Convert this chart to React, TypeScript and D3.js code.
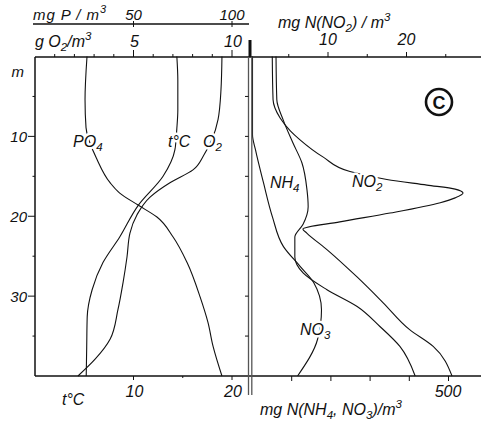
import React from "react";
import * as d3 from "d3";

const W = 481;
const H = 426;

// Depth profiles (m) and values
const tempDepth = [0, 3, 6.7, 9, 11.7, 15, 18.6, 22.6, 25.8, 29.2, 32.6, 36.3, 40];
const tempValue = [14.4, 14.5, 14.5, 14.4, 14.2, 13.0, 10.5, 8.6, 6.9, 5.8, 5.3, 5.25, 5.2];

const o2Depth = [0, 4.2, 7.9, 10.4, 12.3, 14.2, 15.8, 17.6, 19.8, 22.1, 25.1, 28.3, 31.7, 35.4, 37.9, 40];
const o2Value = [9.49, 9.44, 9.29, 8.98, 8.58, 8.02, 6.85, 5.84, 5.18, 4.82, 4.67, 4.47, 4.21, 3.81, 3.05, 2.18];

const po4Depth = [0, 5.4, 8.9, 12.9, 15.8, 17.1, 18.6, 20.1, 22.6, 25.8, 30.1, 33.3, 36.3, 40];
const po4Value = [26.4, 25.4, 25.9, 31.5, 38.1, 43, 52.3, 61.9, 70.1, 77.2, 83.8, 87.8, 90.4, 94.9];

const no3Depth = [0, 5, 9.8, 11.7, 15.8, 20.1, 23.8, 26.3, 28.3, 31.7, 35.4, 40];
const no3Value = [0, 0, 0, 7.7, 28, 51, 79, 122, 156, 176, 166, 115];

const nh4Depth = [0, 5.4, 7.9, 10.8, 13.3, 16.7, 18.8, 21.0, 22.6, 25.1, 27.1, 29.2, 31.3, 33.8, 36.3, 40];
const nh4Value = [60, 62, 78, 103, 126, 139, 142, 129, 108, 108, 129, 190, 267, 325, 376, 415];

const no2Depth = [0, 5.4, 7.7, 9.3, 10.4, 12.6, 14.4, 15.4, 16.1, 16.6, 17.1, 17.7, 18.3, 19.6, 20.7, 21.6, 22.1, 24.2, 27.6, 30.8, 34.2, 36.3, 40];
const no2Value = [2.9, 3.0, 3.9, 5.2, 6.4, 9.4, 12.8, 17.5, 22.6, 26.2, 27.2, 26.2, 24.3, 17.9, 11.5, 6.8, 7.3, 9.9, 13.7, 17.0, 20.4, 23.4, 25.8];

// Tick values
const depthMinor = [5, 15, 25, 35];
const depthMajor = [10, 20, 30];
const o2Ticks = [1, 2, 3, 4, 5, 6, 7, 8, 9, 10];
const o2Labels = [5, 10];
const pLabels = [50, 100];
const tTicks = [10, 15, 20];
const tLabels = [10, 20];
const no2Ticks = [5, 10, 15, 20, 25];
const no2Labels = [10, 20];
const nTicks = [100, 200, 300, 400, 500];

const depthY = d3.scaleLinear().domain([0, 40]).range([56.5, 376]);
const tX = d3.scaleLinear().domain([0, 20]).range([35, 232]);
const o2X = d3.scaleLinear().domain([0, 10]).range([35, 232]);
const pX = d3.scaleLinear().domain([0, 100]).range([35, 232]);
const no2X = d3.scaleLinear().domain([0, 20]).range([249.5, 406.5]);
const nX = d3.scaleLinear().domain([0, 500]).range([252.5, 448.5]);

const FONT = "'Liberation Sans', Arial, sans-serif";

function profile(depth: number[], value: number[], xs: d3.ScaleLinear<number, number>) {
  const pts: [number, number][] = depth.map((d, i) => [value[i], d]);
  return (
    d3
      .line<[number, number]>()
      .x((p) => xs(p[0]))
      .y((p) => depthY(p[1]))
      .curve(d3.curveMonotoneY)(pts) || ""
  );
}

const halo = {
  stroke: "#fff",
  strokeWidth: 5,
  paintOrder: "stroke" as const,
  strokeLinejoin: "round" as const,
};

function Chem({ x, y, base, sub, size = 16 }: { x: number; y: number; base: string; sub: string; size?: number }) {
  return (
    <text x={x} y={y} fontSize={size} fontStyle="italic" fontFamily={FONT} fill="#111" {...halo}>
      {base}
      <tspan dy={4} fontSize={size * 0.72}>
        {sub}
      </tspan>
    </text>
  );
}

export default function App() {
  const left = 35;
  const top = 57;
  const bottom = 376;
  const sep = 250;

  return (
    <svg width={W} height={H} viewBox={`0 0 ${W} ${H}`} style={{ position: "absolute", left: 0, top: 0, background: "#fff" }}>
      <g fill="none" stroke="#111" strokeWidth={1.1}>
        <path d={profile(po4Depth, po4Value, pX)} />
        <path d={profile(tempDepth, tempValue, tX)} />
        <path d={profile(o2Depth, o2Value, o2X)} />
        <path d={profile(no3Depth, no3Value, nX)} />
        <path d={profile(nh4Depth, nh4Value, nX)} />
        <path d={profile(no2Depth, no2Value, no2X)} />
      </g>

      {/* curve labels */}
      <Chem x={73} y={147} base="PO" sub="4" />
      <text x={168} y={147} fontSize={16} fontStyle="italic" fontFamily={FONT} fill="#111" {...halo}>
        t°C
      </text>
      <Chem x={203} y={147} base="O" sub="2" />
      <Chem x={270} y={188} base="NH" sub="4" />
      <Chem x={352} y={187} base="NO" sub="2" />
      <Chem x={300} y={335} base="NO" sub="3" />

      {/* frame lines */}
      <g stroke="#111" strokeWidth={1.5} fill="none">
        <line x1={left} y1={top} x2={left} y2={bottom} />
        <line x1={left} y1={top} x2={W} y2={top} />
        <line x1={left} y1={bottom} x2={W} y2={bottom} />
        <line x1={33} y1={24} x2={249} y2={24} />
      </g>
      <line x1={sep} y1={40} x2={sep} y2={top} stroke="#111" strokeWidth={3} />
      <line x1={sep - 1.5} y1={top} x2={sep - 1.5} y2={395} stroke="#555" strokeWidth={1.3} />
      <line x1={sep + 1.8} y1={top} x2={sep + 1.8} y2={395} stroke="#555" strokeWidth={1.3} />

      {/* depth axis */}
      <g stroke="#111" strokeWidth={1}>
        {depthMajor.map((d) => (
          <line key={"M" + d} x1={left - 7} x2={left} y1={depthY(d)} y2={depthY(d)} />
        ))}
        {depthMinor.map((d) => (
          <line key={"m" + d} x1={left - 2.5} x2={left} y1={depthY(d)} y2={depthY(d)} />
        ))}
        {[...depthMinor, ...depthMajor].map((d) => (
          <line key={"r" + d} x1={sep - 5} x2={sep - 1.5} y1={depthY(d)} y2={depthY(d)} />
        ))}
      </g>
      <g fontSize={15} fontStyle="italic" fontFamily={FONT} fill="#111" textAnchor="end">
        {depthMajor.map((d) => (
          <text key={d} x={27} y={depthY(d) + 5.5}>
            {d}
          </text>
        ))}
        <text x={24} y={77}>
          m
        </text>
      </g>

      {/* P axis */}
      <g stroke="#111" strokeWidth={1}>
        {pLabels.map((v) => (
          <line key={v} x1={pX(v)} x2={pX(v)} y1={21} y2={27} />
        ))}
      </g>
      <text x={33} y={20} fontSize={15} fontStyle="italic" fontFamily={FONT} fill="#111" textLength={66} lengthAdjust="spacing">
        mg P / m
      </text>
      <text x={100} y={13} fontSize={11} fontStyle="italic" fontFamily={FONT} fill="#111">
        3
      </text>
      {pLabels.map((v) => (
        <text key={v} x={pX(v)} y={20} fontSize={15} fontStyle="italic" fontFamily={FONT} fill="#111" textAnchor="middle">
          {v}
        </text>
      ))}

      {/* O2 axis */}
      <g stroke="#111" strokeWidth={1}>
        {o2Ticks.map((v) => (
          <line key={v} x1={o2X(v)} x2={o2X(v)} y1={o2Labels.includes(v) ? 50 : 54} y2={top} />
        ))}
      </g>
      <text x={35} y={47} fontSize={16} fontStyle="italic" fontFamily={FONT} fill="#111">
        g O
        <tspan dy={4} fontSize={11.5}>
          2
        </tspan>
        <tspan dy={-4}>/m</tspan>
        <tspan dy={-7} fontSize={11.5}>
          3
        </tspan>
      </text>
      {o2Labels.map((v) => (
        <text key={v} x={o2X(v) + 1} y={47} fontSize={16} fontStyle="italic" fontFamily={FONT} fill="#111" textAnchor="middle">
          {v}
        </text>
      ))}

      {/* temperature axis */}
      <g stroke="#111" strokeWidth={1}>
        {tTicks.map((v) => (
          <line key={v} x1={tX(v)} x2={tX(v)} y1={bottom} y2={v === 15 ? bottom + 2 : bottom + 4} />
        ))}
      </g>
      {tLabels.map((v) => (
        <text key={v} x={tX(v) + 1} y={397} fontSize={16} fontStyle="italic" fontFamily={FONT} fill="#111" textAnchor="middle">
          {v}
        </text>
      ))}
      <text x={62} y={405} fontSize={16} fontStyle="italic" fontFamily={FONT} fill="#111">
        t°C
      </text>

      {/* NO2 axis */}
      <g stroke="#111" strokeWidth={1}>
        {no2Ticks.map((v) => (
          <line key={v} x1={no2X(v)} x2={no2X(v)} y1={no2Labels.includes(v) ? 52 : 54} y2={top} />
        ))}
      </g>
      <text x={278} y={28} fontSize={16} fontStyle="italic" fontFamily={FONT} fill="#111">
        mg N(NO
        <tspan dy={4} fontSize={11.5}>
          2
        </tspan>
        <tspan dy={-4}>) / m</tspan>
        <tspan dy={-7} fontSize={11.5}>
          3
        </tspan>
      </text>
      {no2Labels.map((v) => (
        <text key={v} x={no2X(v)} y={45} fontSize={16} fontStyle="italic" fontFamily={FONT} fill="#111" textAnchor="middle">
          {v}
        </text>
      ))}

      {/* NH4 / NO3 axis */}
      <g stroke="#111" strokeWidth={1}>
        {nTicks.map((v) => (
          <line key={v} x1={nX(v)} x2={nX(v)} y1={bottom} y2={bottom + 5} />
        ))}
      </g>
      <text x={448} y={397} fontSize={16} fontStyle="italic" fontFamily={FONT} fill="#111" textAnchor="middle">
        500
      </text>
      <text x={260} y={415} fontSize={16} fontStyle="italic" fontFamily={FONT} fill="#111">
        mg N(NH
        <tspan dy={4} fontSize={11.5}>
          4
        </tspan>
        <tspan dy={-4}>, NO</tspan>
        <tspan dy={4} fontSize={11.5}>
          3
        </tspan>
        <tspan dy={-4}>)/m</tspan>
        <tspan dy={-7} fontSize={11.5}>
          3
        </tspan>
      </text>

      {/* panel mark */}
      <circle cx={439} cy={102} r={13} fill="none" stroke="#111" strokeWidth={2.6} />
      <text x={439} y={108.5} fontSize={18} fontWeight="bold" fontFamily={FONT} fill="#111" textAnchor="middle">
        C
      </text>
    </svg>
  );
}
